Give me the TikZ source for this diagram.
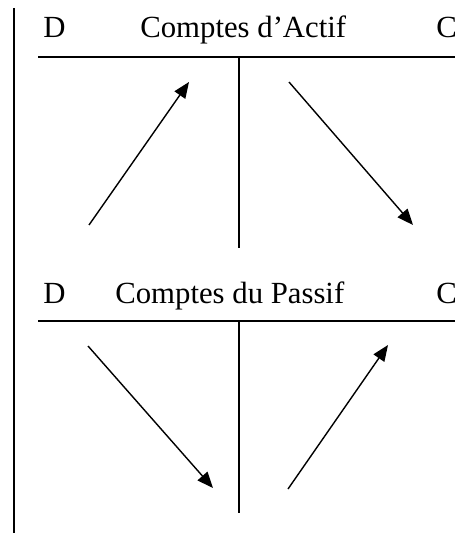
\documentclass[tikz,border=0pt]{standalone}
\usepackage{fontspec}
\setmainfont{Liberation Serif}
\usetikzlibrary{arrows.meta,positioning}
\tikzset{
  rule/.style   = {line width=0.6pt},
  flow/.style   = {-{Triangle[length=3.2mm,width=2.6mm]}, line width=0.8pt},
  headtxt/.style= {font=\fontsize{17.5}{20}\selectfont, anchor=base west, inner sep=0pt},
}
\begin{document}
\begin{tikzpicture}[x=0.02cm,y=-0.02cm]
  \useasboundingbox (0,0) rectangle (455,533);
  \draw[rule] (14,8) -- (14,533);

  % actif
  \node[headtxt] (dA) at (43,38) {D};
  \node[headtxt] (tA) at (140,38) {Comptes d’Actif};
  \node[headtxt] (cA) at (436,38) {C};
  \coordinate (hA1) at (38,57);
  \coordinate (hA2) at (455,57);
  \coordinate (vA1) at (239,57);
  \coordinate (vA2) at (239,248);
  \draw[rule] (hA1) -- (hA2);
  \draw[rule] (vA1) -- (vA2);
  \coordinate (upA1) at (89,225);
  \coordinate (upA2) at (189,82);
  \coordinate (dnA1) at (289,82);
  \coordinate (dnA2) at (413,225);
  \draw[flow] (upA1) -- (upA2);
  \draw[flow] (dnA1) -- (dnA2);

  % passif
  \node[headtxt] (dP) at (43,303) {D};
  \node[headtxt] (tP) at (115,303) {Comptes du Passif};
  \node[headtxt] (cP) at (436,303) {C};
  \coordinate (hP1) at (38,321);
  \coordinate (hP2) at (455,321);
  \coordinate (vP1) at (239,321);
  \coordinate (vP2) at (239,513);
  \draw[rule] (hP1) -- (hP2);
  \draw[rule] (vP1) -- (vP2);
  \coordinate (dnP1) at (88,346);
  \coordinate (dnP2) at (213,488);
  \coordinate (upP1) at (288,489);
  \coordinate (upP2) at (388,345);
  \draw[flow] (dnP1) -- (dnP2);
  \draw[flow] (upP1) -- (upP2);
\end{tikzpicture}
\end{document}
